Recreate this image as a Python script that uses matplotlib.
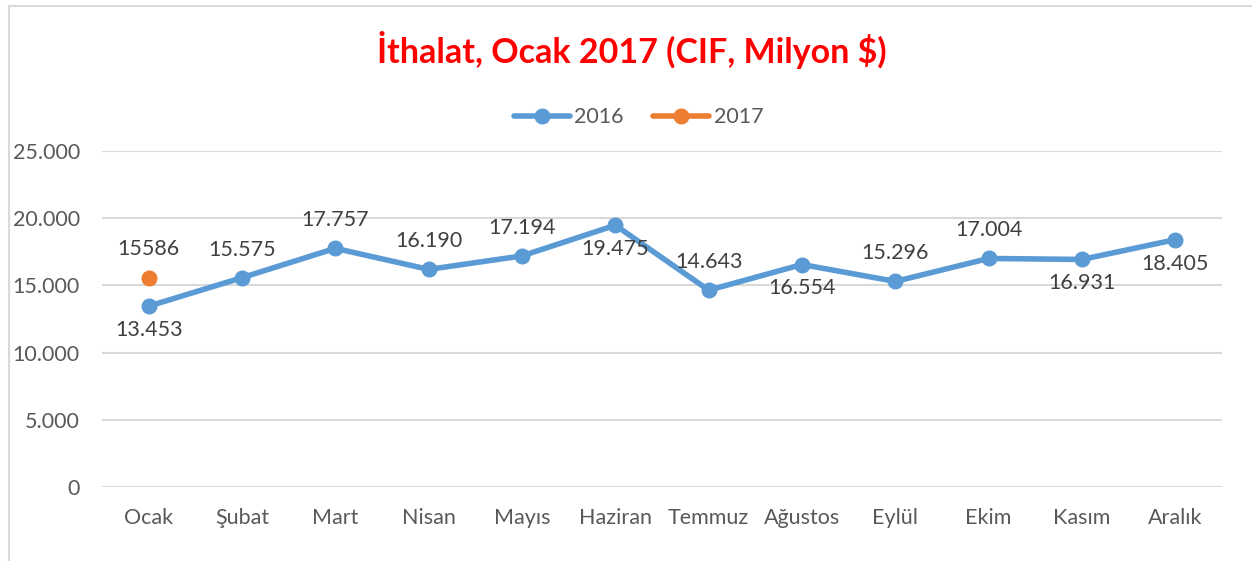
import matplotlib.pyplot as plt
from matplotlib.patches import Rectangle

months = ['Ocak', 'Şubat', 'Mart', 'Nisan', 'Mayıs', 'Haziran', 'Temmuz',
          'Ağustos', 'Eylül', 'Ekim', 'Kasım', 'Aralık']
imports_2016 = [13453, 15575, 17757, 16190, 17194, 19475, 14643,
                16554, 15296, 17004, 16931, 18405]
imports_2017 = [15586]
labels_2016 = ['13.453', '15.575', '17.757', '16.190', '17.194', '19.475', '14.643',
               '16.554', '15.296', '17.004', '16.931', '18.405']
label_side = ['below', 'above', 'above', 'above', 'above', 'below', 'above',
              'below', 'above', 'above', 'below', 'below']
yticks = [0, 5000, 10000, 15000, 20000, 25000]
ytick_labels = ['0', '5.000', '10.000', '15.000', '20.000', '25.000']

blue = '#5B9BD5'
orange = '#ED7D31'
text_col = '#595959'
grid_col = '#D9D9D9'

plt.rcParams['font.family'] = ['Lato', 'DejaVu Sans']

fig = plt.figure(figsize=(12.52, 5.61), dpi=100)
fig.patches.append(Rectangle((9 / 1252, -0.1), 1.1, (561 - 6) / 561 + 0.1,
                             transform=fig.transFigure, fill=False,
                             edgecolor='#D9D9D9', linewidth=1.5))

ax = fig.add_axes([102 / 1252, 74 / 561, 1120 / 1252, 336 / 561])
x = list(range(len(months)))
ax.plot(x, imports_2016, color=blue, linewidth=4, marker='o', markersize=10.5,
        label='2016', solid_capstyle='round')
# single point, line style only shows in the legend
ax.plot(x[:1], imports_2017, color=orange, linewidth=4, marker='o', markersize=10.5,
        label='2017', solid_capstyle='round')

for xi, v, lab, side in zip(x, imports_2016, labels_2016, label_side):
    if side == 'above':
        ax.annotate(lab, (xi, v), xytext=(0, 13), textcoords='offset points',
                    ha='center', va='bottom', fontsize=15.5, color='#404040')
    else:
        ax.annotate(lab, (xi, v), xytext=(0, -10), textcoords='offset points',
                    ha='center', va='top', fontsize=15.5, color='#404040')
ax.annotate('15586', (0, imports_2017[0]), xytext=(0, 13), textcoords='offset points',
            ha='center', va='bottom', fontsize=15.5, color='#404040')

ax.set_xlim(-0.5, len(months) - 0.5)
ax.set_ylim(0, 25000)
ax.set_yticks(yticks)
ax.set_yticklabels(ytick_labels)
ax.set_xticks(x)
ax.set_xticklabels(months)
ax.tick_params(axis='both', length=0, labelsize=15.5, colors=text_col)
ax.tick_params(axis='y', pad=16)
ax.tick_params(axis='x', pad=15)
ax.grid(axis='y', color=grid_col, linewidth=1.5)
ax.set_axisbelow(True)
for s in ax.spines.values():
    s.set_visible(False)

ax.legend(loc='center', bbox_to_anchor=(0.479, 1.10), ncol=2, frameon=False,
          fontsize=15.5, labelcolor=text_col, handlelength=2.6, columnspacing=1.4,
          handletextpad=0.2)
fig.text(0.505, (561 - 50) / 561, 'İthalat, Ocak 2017 (CIF, Milyon $)',
         ha='center', va='center', fontsize=24.5, fontweight='bold', color='#FF0000')

fig.savefig('out.png', dpi=100)
